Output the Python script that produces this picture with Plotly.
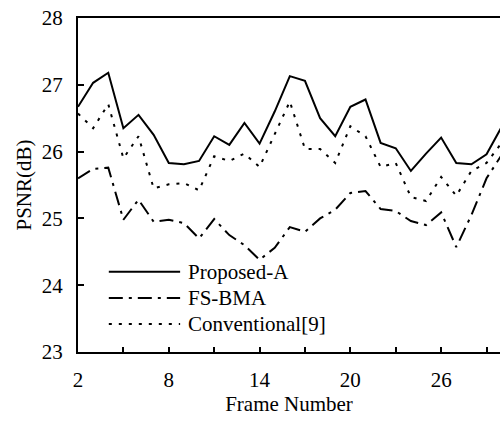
import plotly.graph_objects as go

# Frame index and PSNR (dB) per method
frames = list(range(2, 31))
proposed_a = [26.67, 27.03, 27.18, 26.35, 26.55, 26.25, 25.83, 25.81, 25.86, 26.23,
              26.10, 26.43, 26.12, 26.60, 27.13, 27.06, 26.50, 26.23, 26.67, 26.78,
              26.13, 26.05, 25.71, 25.97, 26.21, 25.83, 25.81, 25.96, 26.37]
fs_bma = [25.60, 25.74, 25.76, 24.98, 25.28, 24.95, 24.98, 24.93, 24.70, 24.99,
          24.75, 24.60, 24.38, 24.56, 24.87, 24.80, 25.00, 25.13, 25.38, 25.41,
          25.14, 25.11, 24.96, 24.90, 25.09, 24.57, 25.05, 25.60, 25.95]
conventional = [26.57, 26.35, 26.71, 25.90, 26.23, 25.45, 25.51, 25.53, 25.42, 25.93,
                25.86, 25.97, 25.77, 26.27, 26.75, 26.04, 26.04, 25.83, 26.38, 26.23,
                25.77, 25.83, 25.32, 25.26, 25.62, 25.34, 25.71, 25.83, 26.13]

names = ["Proposed-A", "FS-BMA", "Conventional[9]"]
series = [proposed_a, fs_bma, conventional]
dashes = ["solid", "14px,6px,3px,6px", "3px,7px"]

x_ticks = list(range(2, 30, 3))
x_labels = [str(v) if (v - 2) % 6 == 0 else "" for v in x_ticks]
y_ticks = [23, 24, 25, 26, 27, 28]

FONT = "Liberation Serif, Times New Roman, serif"
FS = 21

fig = go.Figure()
for name, ys, dash in zip(names, series, dashes):
    fig.add_trace(go.Scatter(
        x=frames, y=ys, name=name, mode="lines",
        line=dict(color="black", width=2, dash=dash),
        showlegend=False,
    ))

# Compact key in the lower-left of the plot: line sample followed by its label
key_x0, key_x1, key_text_x = 0.073, 0.242, 0.256
key_top, key_step = 0.24, 0.078
for i, (name, dash) in enumerate(zip(names, dashes)):
    ky = key_top - i * key_step
    fig.add_shape(
        type="line", xref="paper", yref="paper",
        x0=key_x0, x1=key_x1, y0=ky, y1=ky,
        line=dict(color="black", width=2, dash=dash),
    )
    fig.add_annotation(
        xref="paper", yref="paper", x=key_text_x, y=ky,
        text=name, showarrow=False, xanchor="left", yanchor="middle",
        font=dict(family=FONT, size=FS, color="black"),
    )

fig.update_layout(
    width=500, height=426,
    margin=dict(l=78, r=0, t=18, b=74),
    paper_bgcolor="white", plot_bgcolor="white",
    font=dict(family=FONT, size=FS, color="black"),
    showlegend=False,
)
fig.update_xaxes(
    range=[2, 29.89],
    tickvals=x_ticks, ticktext=x_labels,
    ticks="inside", ticklen=5, tickwidth=1.5, tickcolor="black",
    ticklabelstandoff=8,
    showline=True, linecolor="black", linewidth=2, mirror=True,
    showgrid=False, zeroline=False,
    title=dict(text="Frame Number", standoff=0, font=dict(family=FONT, size=FS)),
)
fig.update_yaxes(
    range=[23, 28],
    tickvals=y_ticks,
    ticks="inside", ticklen=6, tickwidth=1.5, tickcolor="black",
    ticklabelstandoff=9,
    showline=True, linecolor="black", linewidth=2, mirror=False,
    showgrid=False, zeroline=False,
    title=dict(text="PSNR(dB)", standoff=4, font=dict(family=FONT, size=FS)),
)

fig.write_html("out.html")
